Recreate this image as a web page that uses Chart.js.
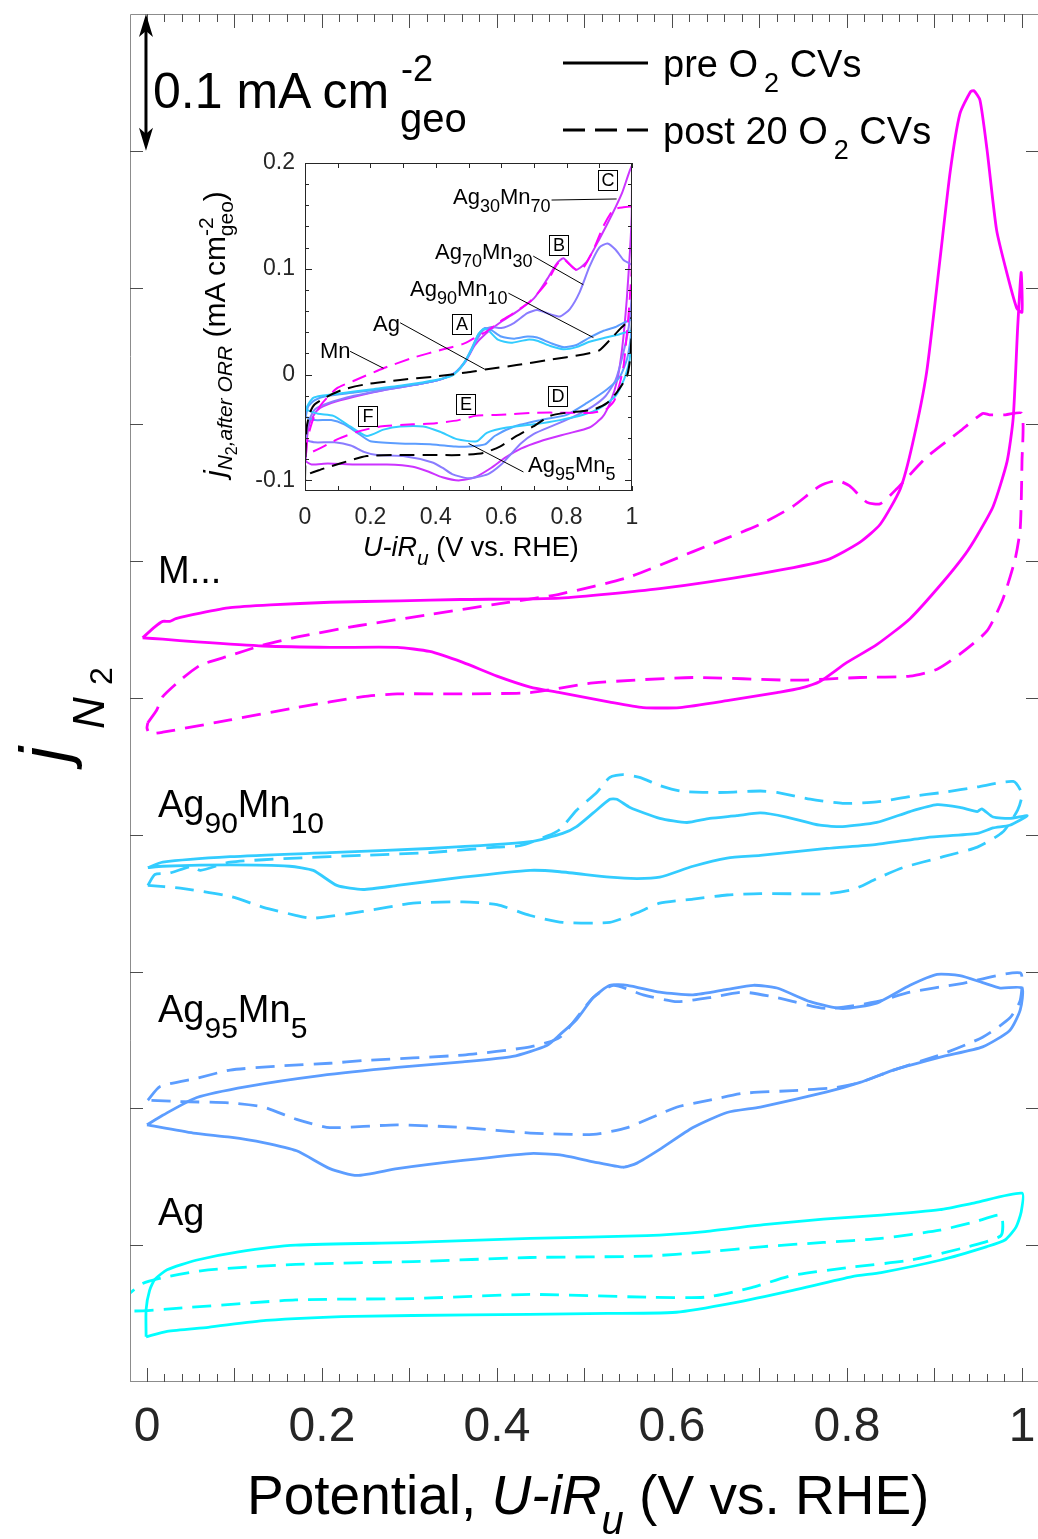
<!DOCTYPE html>
<html lang="en">
<head>
<meta charset="UTF-8">
<title>N2 CVs before / after O2 cycling</title>
<script src="https://cdn.jsdelivr.net/npm/chart.js@4.4.1/dist/chart.umd.min.js"></script>
<style>
* { margin:0; padding:0; box-sizing:border-box; }
html, body { background:#fff; overflow:hidden; }
#wrap { position:relative; width:1038px; height:1539px; }
#mainChart { position:absolute; left:0; top:0; }
#insetChart { position:absolute; left:180px; top:140px; }
.t { position:absolute; font-family:"Liberation Sans", Arial, Helvetica, sans-serif; line-height:1; white-space:nowrap; color:#000; }
.t span { position:relative; }
.rot { transform-origin:0 0; transform:rotate(-90deg); }
.lab { font-size:38px; }
.lab .s { font-size:30px; top:16px; }
.ann { font-size:22px; }
.ann .s { font-size:18px; top:8px; }
.bx { position:absolute; width:20px; height:21px; border:1px solid #000; font-family:"Liberation Sans", Arial, sans-serif; font-size:18px; line-height:19px; text-align:center; color:#000; }
</style>
</head>
<body>
<div id="wrap">
  <canvas id="mainChart" width="1038" height="1539"></canvas>
  <canvas id="insetChart" width="470" height="440"></canvas>

  <!-- scale bar + legend -->
  <div class="t" style="left:153px;top:66px;font-size:50px">0.1 mA cm</div>
  <div class="t" style="left:401px;top:51px;font-size:36px">-2</div>
  <div class="t" style="left:400px;top:98px;font-size:40px">geo</div>
  <div class="t" style="left:663px;top:45px;font-size:38px">pre O<span style="font-size:27px;top:15px;margin-left:6px">2</span> CVs</div>
  <div class="t" style="left:663px;top:112px;font-size:38px">post 20 O<span style="font-size:27px;top:15px;margin-left:6px">2</span> CVs</div>

  <!-- sample labels -->
  <div class="t lab" style="left:158px;top:551px">M...</div>
  <div class="t lab" style="left:158px;top:785px">Ag<span class="s">90</span>Mn<span class="s">10</span></div>
  <div class="t lab" style="left:158px;top:990px">Ag<span class="s">95</span>Mn<span class="s">5</span></div>
  <div class="t lab" style="left:158px;top:1193px">Ag</div>

  <!-- main axis titles -->
  <div class="t" style="left:247px;top:1468px;font-size:55px">Potential, <i>U-iR</i><span style="font-size:40px;top:20px"><i>u</i></span> (V vs. RHE)</div>
  <div class="t rot" style="left:10px;top:762px;font-size:68px"><i>j</i><span style="font-size:44px;top:36px;margin-left:18px"><i>N</i><span style="font-size:32px;top:8px;margin-left:12px">2</span></span></div>

  <!-- inset titles -->
  <div class="t rot" style="left:200px;top:477px;font-size:30px"><i>j</i><span style="font-size:21px;top:7px"><i>N</i><span style="font-size:16px;top:5px">2</span><i>,after ORR</i></span> (mA cm<span style="font-size:21px;top:-12px">-2</span><span style="font-size:21px;top:8px;margin-left:-19px">geo</span>)</div>
  <div class="t" style="left:363px;top:534px;font-size:27px"><i>U-iR</i><span style="font-size:21px;top:9px"><i>u</i></span> (V vs. RHE)</div>

  <!-- inset annotations -->
  <div class="t ann" style="left:453px;top:186px">Ag<span class="s">30</span>Mn<span class="s">70</span></div>
  <div class="t ann" style="left:435px;top:241px">Ag<span class="s">70</span>Mn<span class="s">30</span></div>
  <div class="t ann" style="left:410px;top:278px">Ag<span class="s">90</span>Mn<span class="s">10</span></div>
  <div class="t ann" style="left:373px;top:313px">Ag</div>
  <div class="t ann" style="left:320px;top:340px">Mn</div>
  <div class="t ann" style="left:528px;top:454px">Ag<span class="s">95</span>Mn<span class="s">5</span></div>
  <div class="bx" style="left:452px;top:314px">A</div>
  <div class="bx" style="left:549px;top:235px">B</div>
  <div class="bx" style="left:598px;top:170px">C</div>
  <div class="bx" style="left:548px;top:386px">D</div>
  <div class="bx" style="left:456px;top:394px">E</div>
  <div class="bx" style="left:358px;top:406px">F</div>
</div>

<script>
// ---- main panel data: [potential V, offset current mA cm-2] ----
const mnPre = [[-0.005,0.544],[0.009,0.552],[0.018,0.556],[0.026,0.556],[0.033,0.558],[0.061,0.562],[0.095,0.566],[0.141,0.568],[0.209,0.570],[0.289,0.571],[0.358,0.572],[0.472,0.573],[0.586,0.580],[0.701,0.591],[0.777,0.601],[0.815,0.614],[0.838,0.627],[0.861,0.653],[0.875,0.686],[0.891,0.738],[0.906,0.819],[0.918,0.885],[0.929,0.927],[0.941,0.943],[0.945,0.944],[0.952,0.937],[0.960,0.901],[0.971,0.842],[0.983,0.810],[0.994,0.785],[1.000,0.782],
  [0.999,0.811],[0.995,0.770],[0.990,0.705],[0.983,0.673],[0.967,0.640],[0.949,0.619],[0.935,0.605],[0.910,0.585],[0.872,0.558],[0.834,0.539],[0.800,0.526],[0.769,0.512],[0.746,0.507],[0.720,0.504],[0.663,0.498],[0.609,0.493],[0.567,0.493],[0.529,0.497],[0.472,0.504],[0.438,0.508],[0.400,0.516],[0.361,0.526],[0.323,0.534],[0.286,0.537],[0.209,0.537],[0.133,0.538],[0.057,0.541],[0.018,0.543],[-0.005,0.544]];
const mnPost = [[0.001,0.482],[0.011,0.491],[0.018,0.501],[0.038,0.513],[0.061,0.524],[0.095,0.531],[0.129,0.538],[0.175,0.545],[0.243,0.553],[0.323,0.561],[0.403,0.569],[0.472,0.576],[0.549,0.588],[0.624,0.607],[0.701,0.627],[0.738,0.640],[0.769,0.655],[0.789,0.659],[0.803,0.655],[0.823,0.643],[0.838,0.642],[0.857,0.653],[0.891,0.676],[0.929,0.695],[0.955,0.708],[0.963,0.707],[0.981,0.707],[1.000,0.708],
  [1.000,0.673],[0.998,0.624],[0.992,0.601],[0.978,0.572],[0.960,0.549],[0.929,0.532],[0.903,0.521],[0.872,0.516],[0.815,0.515],[0.738,0.513],[0.624,0.515],[0.510,0.511],[0.438,0.504],[0.361,0.503],[0.286,0.503],[0.247,0.501],[0.171,0.493],[0.095,0.484],[0.018,0.475],[0.003,0.474],[0.000,0.478],[0.001,0.482]];
const ag90Pre = [[0.001,0.376],[0.018,0.380],[0.095,0.384],[0.209,0.387],[0.323,0.390],[0.438,0.395],[0.475,0.401],[0.491,0.406],[0.510,0.416],[0.529,0.426],[0.537,0.426],[0.552,0.420],[0.586,0.412],[0.617,0.409],[0.643,0.412],[0.674,0.414],[0.701,0.416],[0.731,0.413],[0.769,0.407],[0.795,0.406],[0.834,0.409],[0.872,0.417],[0.903,0.422],[0.929,0.420],[0.949,0.417],[0.954,0.419],[0.967,0.413],[0.986,0.412],[1.006,0.414],
  [0.986,0.407],[0.967,0.405],[0.949,0.401],[0.891,0.398],[0.834,0.393],[0.777,0.390],[0.701,0.385],[0.663,0.383],[0.624,0.377],[0.586,0.369],[0.560,0.368],[0.529,0.369],[0.472,0.373],[0.438,0.374],[0.361,0.369],[0.286,0.363],[0.247,0.360],[0.217,0.363],[0.190,0.374],[0.163,0.377],[0.095,0.378],[0.018,0.377],[0.001,0.376]];
const ag90Post = [[0.001,0.363],[0.009,0.371],[0.026,0.372],[0.051,0.377],[0.061,0.374],[0.095,0.380],[0.171,0.383],[0.247,0.385],[0.323,0.387],[0.400,0.391],[0.426,0.392],[0.457,0.399],[0.472,0.404],[0.491,0.418],[0.514,0.431],[0.529,0.442],[0.544,0.444],[0.563,0.442],[0.586,0.436],[0.609,0.432],[0.635,0.431],[0.663,0.431],[0.701,0.432],[0.720,0.431],[0.758,0.426],[0.795,0.423],[0.834,0.424],[0.872,0.428],[0.910,0.431],[0.949,0.435],[0.990,0.439],[1.000,0.430],[0.995,0.418],
  [0.978,0.402],[0.949,0.391],[0.910,0.384],[0.864,0.376],[0.834,0.368],[0.807,0.360],[0.777,0.357],[0.701,0.357],[0.663,0.356],[0.624,0.353],[0.586,0.350],[0.560,0.343],[0.529,0.336],[0.475,0.336],[0.438,0.341],[0.400,0.349],[0.361,0.351],[0.304,0.350],[0.247,0.344],[0.190,0.339],[0.171,0.341],[0.133,0.347],[0.095,0.355],[0.038,0.361],[0.001,0.363]];
const ag95Pre = [[0.000,0.188],[0.018,0.195],[0.057,0.208],[0.114,0.216],[0.198,0.224],[0.286,0.230],[0.361,0.234],[0.418,0.238],[0.457,0.246],[0.472,0.254],[0.491,0.265],[0.510,0.281],[0.529,0.290],[0.549,0.290],[0.586,0.285],[0.624,0.283],[0.663,0.287],[0.693,0.290],[0.720,0.288],[0.758,0.278],[0.795,0.273],[0.834,0.277],[0.872,0.290],[0.903,0.298],[0.929,0.297],[0.955,0.292],[0.975,0.288],[1.000,0.288],
  [0.998,0.272],[0.986,0.257],[0.955,0.245],[0.910,0.238],[0.853,0.228],[0.815,0.219],[0.777,0.212],[0.701,0.201],[0.663,0.197],[0.624,0.186],[0.586,0.170],[0.560,0.160],[0.544,0.157],[0.510,0.161],[0.472,0.166],[0.438,0.167],[0.361,0.162],[0.286,0.156],[0.240,0.151],[0.209,0.156],[0.171,0.169],[0.133,0.175],[0.095,0.179],[0.053,0.182],[0.000,0.188]];
const ag95Post = [[0.001,0.206],[0.015,0.216],[0.057,0.222],[0.095,0.228],[0.152,0.231],[0.209,0.233],[0.247,0.235],[0.361,0.239],[0.438,0.245],[0.472,0.252],[0.510,0.281],[0.533,0.290],[0.567,0.283],[0.606,0.278],[0.643,0.281],[0.681,0.285],[0.720,0.281],[0.777,0.273],[0.834,0.278],[0.872,0.285],[0.929,0.291],[0.998,0.299],
  [0.998,0.279],[0.986,0.266],[0.955,0.252],[0.910,0.240],[0.853,0.228],[0.815,0.219],[0.784,0.215],[0.738,0.213],[0.681,0.211],[0.643,0.206],[0.606,0.201],[0.549,0.186],[0.510,0.181],[0.438,0.182],[0.361,0.186],[0.286,0.188],[0.209,0.186],[0.171,0.192],[0.133,0.201],[0.095,0.204],[0.038,0.205],[0.001,0.206]];
const agPre = [[-0.001,0.033],[-0.001,0.053],[0.003,0.067],[0.009,0.075],[0.023,0.082],[0.056,0.089],[0.103,0.095],[0.170,0.100],[0.304,0.102],[0.438,0.105],[0.571,0.107],[0.638,0.110],[0.705,0.115],[0.773,0.119],[0.839,0.122],[0.906,0.126],[0.946,0.131],[1.000,0.138],
  [0.999,0.124],[0.993,0.113],[0.981,0.104],[0.960,0.099],[0.906,0.089],[0.839,0.080],[0.806,0.077],[0.738,0.067],[0.672,0.058],[0.605,0.051],[0.504,0.050],[0.370,0.049],[0.237,0.048],[0.136,0.045],[0.070,0.040],[0.023,0.037],[-0.001,0.033]];
const agPost = [[-0.030,0.058],[-0.021,0.064],[-0.005,0.072],[0.023,0.077],[0.070,0.082],[0.170,0.086],[0.304,0.088],[0.438,0.091],[0.571,0.092],[0.638,0.095],[0.705,0.099],[0.773,0.102],[0.839,0.105],[0.906,0.111],[0.946,0.117],[0.976,0.122],
  [0.976,0.107],[0.939,0.099],[0.872,0.089],[0.806,0.084],[0.738,0.078],[0.691,0.069],[0.638,0.062],[0.571,0.062],[0.438,0.064],[0.304,0.061],[0.170,0.060],[0.037,0.054],[-0.021,0.052],[-0.030,0.058]];

// ---- inset data: j after ORR, mA cm-2 ----
const insAg30Mn70 = [[0.002,-0.082],[0.006,-0.060],[0.015,-0.045],[0.040,-0.033],[0.080,-0.027],[0.150,-0.021],[0.250,-0.014],[0.350,-0.009],[0.420,-0.004],[0.460,0.002],[0.490,0.012],[0.520,0.028],[0.550,0.038],[0.600,0.050],[0.650,0.060],[0.700,0.072],[0.740,0.090],[0.770,0.105],[0.790,0.110],[0.810,0.104],[0.830,0.099],[0.860,0.106],[0.900,0.128],[0.940,0.152],[0.970,0.172],[1.000,0.197],
  [0.999,0.150],[0.994,0.118],[0.984,0.071],[0.970,0.025],[0.955,-0.005],[0.935,-0.025],[0.910,-0.040],[0.870,-0.050],[0.800,-0.056],[0.720,-0.063],[0.660,-0.070],[0.610,-0.079],[0.570,-0.088],[0.520,-0.097],[0.470,-0.100],[0.420,-0.097],[0.380,-0.092],[0.330,-0.087],[0.250,-0.085],[0.150,-0.085],[0.070,-0.084],[0.020,-0.085],[0.002,-0.082]];
const insAg70Mn30 = [[0.002,-0.062],[0.010,-0.045],[0.030,-0.033],[0.070,-0.027],[0.150,-0.020],[0.250,-0.014],[0.350,-0.009],[0.420,-0.004],[0.460,0.002],[0.490,0.012],[0.520,0.030],[0.545,0.042],[0.570,0.045],[0.600,0.044],[0.640,0.049],[0.680,0.058],[0.710,0.061],[0.750,0.057],[0.780,0.055],[0.810,0.062],[0.840,0.078],[0.870,0.102],[0.900,0.120],[0.925,0.124],[0.950,0.118],[0.975,0.108],[1.000,0.103],
  [0.998,0.070],[0.990,0.045],[0.973,0.020],[0.950,-0.005],[0.920,-0.020],[0.880,-0.030],[0.820,-0.040],[0.760,-0.048],[0.700,-0.056],[0.660,-0.065],[0.630,-0.075],[0.600,-0.085],[0.560,-0.094],[0.500,-0.098],[0.450,-0.094],[0.420,-0.088],[0.390,-0.083],[0.300,-0.077],[0.220,-0.076],[0.180,-0.073],[0.140,-0.067],[0.090,-0.064],[0.030,-0.064],[0.002,-0.062]];
const insAg95Mn5 = [[0.002,-0.040],[0.010,-0.030],[0.030,-0.024],[0.070,-0.020],[0.150,-0.017],[0.250,-0.013],[0.350,-0.009],[0.420,-0.004],[0.460,0.002],[0.490,0.013],[0.510,0.025],[0.530,0.038],[0.550,0.044],[0.570,0.042],[0.600,0.036],[0.640,0.034],[0.680,0.036],[0.710,0.035],[0.750,0.030],[0.790,0.026],[0.830,0.028],[0.870,0.035],[0.910,0.041],[0.950,0.045],[1.000,0.052],
  [0.996,0.035],[0.985,0.015],[0.963,-0.002],[0.923,-0.014],[0.861,-0.027],[0.800,-0.038],[0.720,-0.043],[0.640,-0.049],[0.580,-0.058],[0.550,-0.066],[0.500,-0.068],[0.460,-0.068],[0.390,-0.066],[0.290,-0.065],[0.200,-0.063],[0.160,-0.055],[0.120,-0.047],[0.080,-0.043],[0.030,-0.043],[0.002,-0.040]];
const insAg90Mn10 = [[0.002,-0.033],[0.010,-0.028],[0.025,-0.022],[0.050,-0.020],[0.100,-0.018],[0.200,-0.014],[0.300,-0.010],[0.400,-0.005],[0.450,-0.001],[0.480,0.008],[0.510,0.024],[0.530,0.038],[0.545,0.043],[0.560,0.042],[0.590,0.033],[0.630,0.030],[0.680,0.033],[0.710,0.032],[0.750,0.027],[0.790,0.024],[0.830,0.026],[0.870,0.031],[0.920,0.035],[0.960,0.038],[1.000,0.041],
  [0.995,0.020],[0.990,0.010],[0.975,-0.005],[0.950,-0.020],[0.900,-0.032],[0.851,-0.038],[0.780,-0.043],[0.700,-0.047],[0.617,-0.050],[0.556,-0.055],[0.525,-0.063],[0.464,-0.061],[0.413,-0.054],[0.362,-0.049],[0.291,-0.049],[0.240,-0.052],[0.189,-0.058],[0.138,-0.049],[0.087,-0.039],[0.040,-0.037],[0.002,-0.033]];
const insMn = [[0.003,-0.075],[0.008,-0.060],[0.025,-0.042],[0.050,-0.028],[0.097,-0.013],[0.148,-0.006],[0.240,0.006],[0.331,0.016],[0.423,0.024],[0.484,0.029],[0.515,0.034],[0.556,0.041],[0.596,0.050],[0.637,0.058],[0.688,0.069],[0.739,0.087],[0.770,0.104],[0.790,0.109],[0.810,0.104],[0.831,0.099],[0.851,0.101],[0.882,0.118],[0.912,0.140],[0.943,0.156],[0.970,0.158],[1.000,0.158],
  [1.000,0.130],[0.999,0.100],[0.989,0.055],[0.975,0.010],[0.963,-0.008],[0.945,-0.025],[0.920,-0.033],[0.880,-0.036],[0.800,-0.036],[0.700,-0.036],[0.600,-0.038],[0.520,-0.039],[0.470,-0.043],[0.400,-0.046],[0.330,-0.047],[0.230,-0.049],[0.160,-0.054],[0.100,-0.061],[0.050,-0.069],[0.015,-0.074],[0.003,-0.075]];
const insAg = [[0.000,-0.100],[0.002,-0.070],[0.005,-0.050],[0.015,-0.036],[0.030,-0.028],[0.066,-0.021],[0.117,-0.014],[0.189,-0.009],[0.291,-0.005],[0.392,-0.002],[0.494,0.002],[0.556,0.005],[0.647,0.009],[0.749,0.014],[0.851,0.019],[0.900,0.023],[0.933,0.033],[0.963,0.043],[0.994,0.052],[1.000,0.054],
  [0.999,0.040],[0.994,0.014],[0.984,-0.002],[0.953,-0.017],[0.923,-0.027],[0.882,-0.033],[0.800,-0.036],[0.749,-0.039],[0.698,-0.049],[0.647,-0.058],[0.596,-0.068],[0.545,-0.074],[0.474,-0.076],[0.392,-0.076],[0.291,-0.076],[0.189,-0.077],[0.107,-0.084],[0.046,-0.090],[0.005,-0.095],[0.000,-0.100]];

// ticks
const xTicks = [0, 0.2, 0.4, 0.6, 0.8, 1];
const insetXTicks = [0, 0.2, 0.4, 0.6, 0.8, 1];
const insetYTicks = [-0.1, 0, 0.1, 0.2];
const scaleBarTop = 1.0, scaleBarSpan = 0.1;

// leader lines of the inset labels (data coords)
const insetLeaders = [
  [0.754, 0.165, 0.953, 0.166],
  [0.698, 0.112, 0.851, 0.085],
  [0.622, 0.077, 0.882, 0.035],
  [0.291, 0.049, 0.550, 0.005],
  [0.138, 0.022, 0.240, 0.006],
  [0.500, -0.065, 0.668, -0.092]
];

const colMn = '#ff00ff', colAg90 = '#33ccff', colAg95 = '#5c9dff', colAg = '#00ffff';
const colAg30 = '#cc33ff', colAg70 = '#8a7cff';

Chart.defaults.font.family = '"Liberation Sans", Arial, Helvetica, sans-serif';

function curve(pts, color, dash, width) {
  return {
    data: pts.map(p => ({x: p[0], y: p[1]})),
    borderColor: color,
    borderWidth: width,
    borderDash: dash,
    showLine: true,
    pointRadius: 0,
    fill: false,
    tension: 0.2
  };
}

function arrowHead(ctx, x, tipY, dir) {
  ctx.beginPath();
  ctx.moveTo(x, tipY);
  ctx.lineTo(x - 7, tipY + dir * 23);
  ctx.lineTo(x, tipY + dir * 17);
  ctx.lineTo(x + 7, tipY + dir * 23);
  ctx.closePath();
  ctx.fill();
}

// axes box, inward ticks, legend, scale bar
const mainFrame = {
  id: 'mainFrame',
  afterDraw(chart) {
    const {ctx, chartArea: a} = chart;
    const sx = chart.scales.x, sy = chart.scales.y;
    ctx.save();
    ctx.lineWidth = 1;
    ctx.strokeStyle = '#8c8c8c';
    ctx.beginPath();
    ctx.moveTo(a.left + 0.5, a.bottom); ctx.lineTo(a.left + 0.5, a.top + 0.5); ctx.lineTo(a.right, a.top + 0.5);
    ctx.moveTo(a.left, a.bottom - 0.5); ctx.lineTo(a.right, a.bottom - 0.5);
    ctx.stroke();
    ctx.strokeStyle = '#4d4d4d';
    ctx.beginPath();
    for (let i = 0; i <= 50; i++) {
      const px = Math.round(sx.getPixelForValue(i * 0.02)) + 0.5;
      const len = i % 5 === 0 ? 14 : 8;
      ctx.moveTo(px, a.bottom); ctx.lineTo(px, a.bottom - len);
      ctx.moveTo(px, a.top); ctx.lineTo(px, a.top + len);
    }
    for (let i = 1; i < 10; i++) {
      const py = Math.round(sy.getPixelForValue(i * 0.1)) + 0.5;
      ctx.moveTo(a.left, py); ctx.lineTo(a.left + 13, py);
      ctx.moveTo(a.right, py); ctx.lineTo(a.right - 12, py);
    }
    ctx.stroke();

    // legend
    ctx.strokeStyle = '#000';
    ctx.lineWidth = 3;
    ctx.beginPath(); ctx.moveTo(563, 63); ctx.lineTo(648, 63); ctx.stroke();
    ctx.setLineDash([22, 10]);
    ctx.beginPath(); ctx.moveTo(563, 130); ctx.lineTo(648, 130); ctx.stroke();
    ctx.setLineDash([]);

    // scale bar (0.1 mA cm-2)
    const bx = sx.getPixelForValue(0) - 1;
    const y1 = sy.getPixelForValue(scaleBarTop), y2 = sy.getPixelForValue(scaleBarTop - scaleBarSpan);
    ctx.beginPath(); ctx.moveTo(bx, y1 + 12); ctx.lineTo(bx, y2 - 12); ctx.stroke();
    ctx.fillStyle = '#000';
    arrowHead(ctx, bx, y1, 1);
    arrowHead(ctx, bx, y2, -1);
    ctx.restore();
  }
};

const insetFrame = {
  id: 'insetFrame',
  afterDraw(chart) {
    const {ctx, chartArea: a} = chart;
    const sx = chart.scales.x, sy = chart.scales.y;
    ctx.save();
    ctx.strokeStyle = '#262626';
    ctx.lineWidth = 1;
    ctx.strokeRect(a.left + 0.5, a.top + 0.5, a.right - a.left - 1, a.bottom - a.top - 1);
    ctx.beginPath();
    for (let i = 0; i <= 10; i++) {
      const px = Math.round(sx.getPixelForValue(i / 10)) + 0.5;
      ctx.moveTo(px, a.bottom); ctx.lineTo(px, a.bottom - 5);
      ctx.moveTo(px, a.top); ctx.lineTo(px, a.top + 5);
    }
    for (let i = -5; i <= 10; i++) {
      const py = Math.round(sy.getPixelForValue(i * 0.02)) + 0.5;
      const len = i % 5 === 0 ? 7 : 4;
      ctx.moveTo(a.left, py); ctx.lineTo(a.left + len, py);
      ctx.moveTo(a.right, py); ctx.lineTo(a.right - len, py);
    }
    ctx.stroke();
    ctx.strokeStyle = '#000';
    ctx.beginPath();
    insetLeaders.forEach(l => {
      ctx.moveTo(sx.getPixelForValue(l[0]), sy.getPixelForValue(l[1]));
      ctx.lineTo(sx.getPixelForValue(l[2]), sy.getPixelForValue(l[3]));
    });
    ctx.stroke();
    ctx.restore();
  }
};

const mainDash = [19, 10];
const mainWidth = 2.8;
new Chart(document.getElementById('mainChart'), {
  type: 'scatter',
  data: {
    datasets: [
      curve(mnPre, colMn, [], mainWidth), curve(mnPost, colMn, mainDash, mainWidth),
      curve(ag90Pre, colAg90, [], mainWidth), curve(ag90Post, colAg90, mainDash, mainWidth),
      curve(ag95Pre, colAg95, [], mainWidth), curve(ag95Post, colAg95, mainDash, mainWidth),
      curve(agPre, colAg, [], mainWidth), curve(agPost, colAg, mainDash, mainWidth)
    ]
  },
  options: {
    responsive: false,
    animation: false,
    devicePixelRatio: 1,
    layout: { padding: { top: 14, right: 0, left: 0, bottom: 0 } },
    plugins: { legend: { display: false }, tooltip: { enabled: false } },
    scales: {
      x: {
        type: 'linear', min: -0.0194, max: 1.0183,
        grid: { display: false, drawTicks: false }, border: { display: false },
        afterBuildTicks: s => { s.ticks = xTicks.map(v => ({value: v})); },
        afterFit: s => { s.height = 157; s.paddingLeft = 0; s.paddingRight = 0; },
        ticks: { font: { size: 48 }, color: '#262626', padding: 17, maxRotation: 0, autoSkip: false, callback: v => String(v) }
      },
      y: {
        type: 'linear', min: 0, max: 1,
        grid: { display: false, drawTicks: false }, border: { display: false },
        ticks: { display: false },
        afterFit: s => { s.width = 130; s.paddingTop = 0; s.paddingBottom = 0; }
      }
    }
  },
  plugins: [mainFrame]
});

const insetDash = [15, 8];
new Chart(document.getElementById('insetChart'), {
  type: 'scatter',
  data: {
    datasets: [
      curve(insAg, '#000000', insetDash, 2),
      curve(insMn, colMn, insetDash, 2),
      curve(insAg90Mn10, colAg90, [], 2),
      curve(insAg95Mn5, colAg95, [], 2),
      curve(insAg70Mn30, colAg70, [], 2),
      curve(insAg30Mn70, colAg30, [], 2)
    ]
  },
  options: {
    responsive: false,
    animation: false,
    devicePixelRatio: 1,
    layout: { padding: { top: 23, right: 18, left: 0, bottom: 0 } },
    plugins: { legend: { display: false }, tooltip: { enabled: false } },
    scales: {
      x: {
        type: 'linear', min: 0, max: 1,
        grid: { display: false, drawTicks: false }, border: { display: false },
        afterBuildTicks: s => { s.ticks = insetXTicks.map(v => ({value: v})); },
        afterFit: s => { s.height = 89; s.paddingLeft = 0; s.paddingRight = 0; },
        ticks: { font: { size: 23 }, color: '#262626', padding: 13, maxRotation: 0, autoSkip: false, callback: v => String(v) }
      },
      y: {
        type: 'linear', min: -0.11, max: 0.2,
        grid: { display: false, drawTicks: false }, border: { display: false },
        afterBuildTicks: s => { s.ticks = insetYTicks.map(v => ({value: v})); },
        afterFit: s => { s.width = 125; s.paddingTop = 0; s.paddingBottom = 0; },
        ticks: { font: { size: 23 }, color: '#262626', padding: 10, autoSkip: false, callback: v => String(v) }
      }
    }
  },
  plugins: [insetFrame]
});
</script>
</body>
</html>
